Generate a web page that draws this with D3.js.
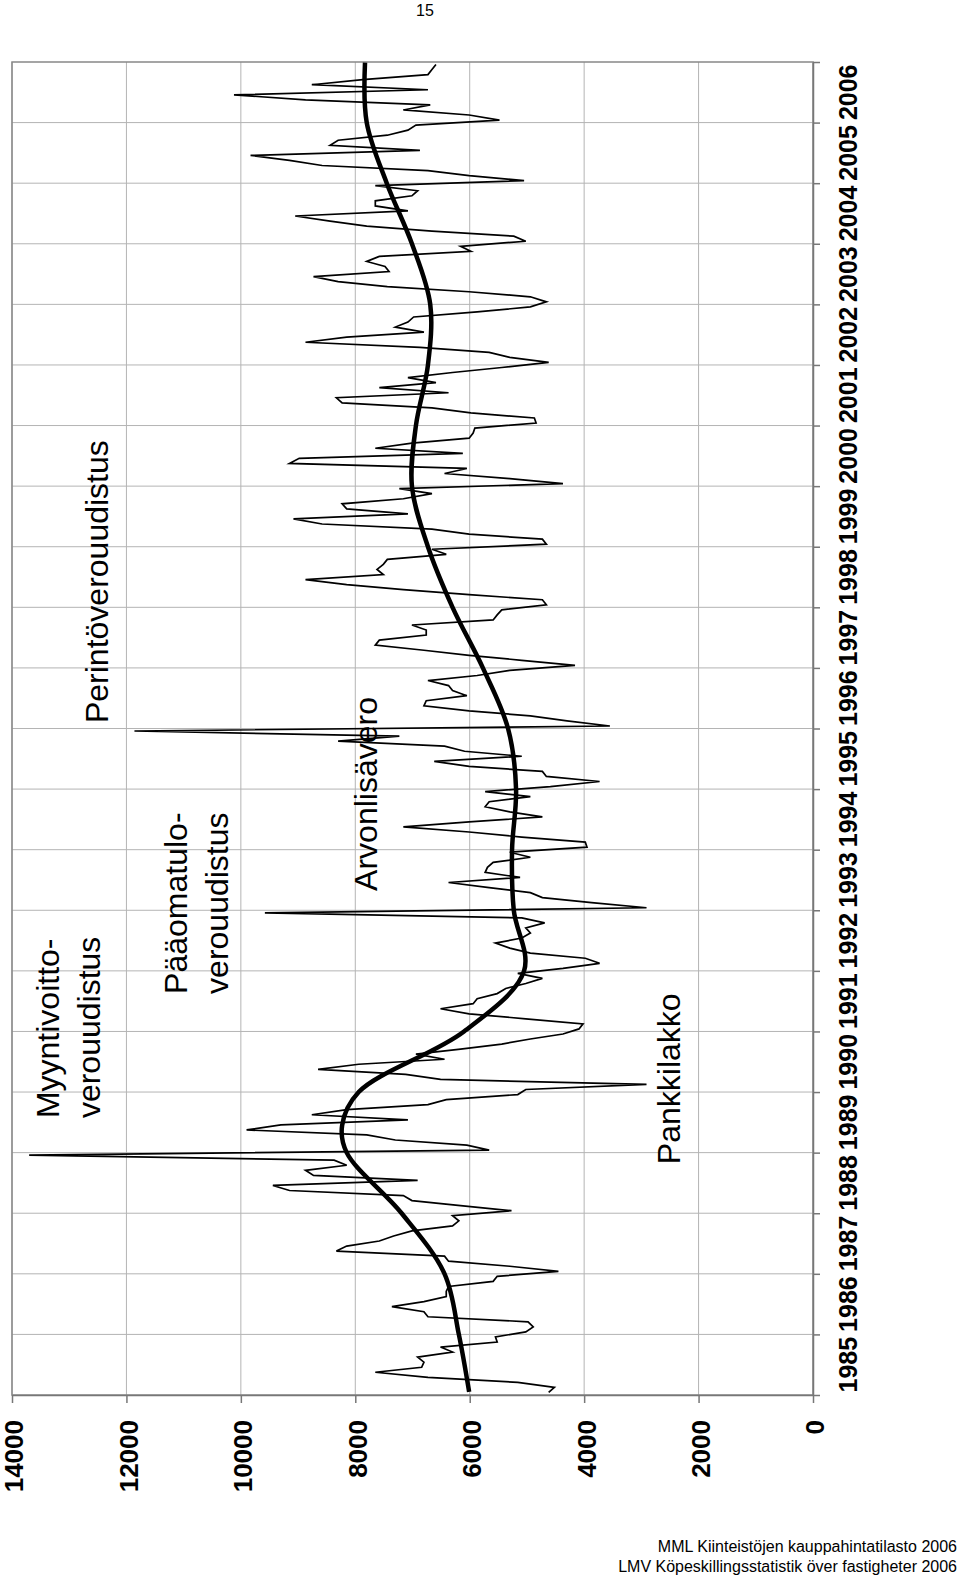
<!DOCTYPE html>
<html>
<head>
<meta charset="utf-8">
<script src="https://cdn.jsdelivr.net/npm/d3@7/dist/d3.min.js"></script>
<style>
  body { margin: 0; background: #fff; }
  svg { display: block; }
  text { font-family: "Liberation Sans", Arial, sans-serif; fill: #000; }
</style>
</head>
<body>
<div class="vis-container"></div>
<script>
// year categories (labels on the vertical axis)
var years = d3.range(1985, 2007);
// value axis ticks
var valueTicks = [0, 2000, 4000, 6000, 8000, 10000, 12000, 14000];

// monthly values, one row per year (Jan..Dec)
var monthly1985 = [4620, 4520, 5160, 6730, 7650, 6840, 6800, 6910, 6300, 6510, 5520, 5550];
var monthly1986 = [5020, 4890, 4980, 6730, 6800, 7360, 6800, 6410, 6410, 6370, 5590, 5520];
var monthly1987 = [4450, 5300, 6370, 6440, 8330, 8150, 7580, 7330, 7010, 6300, 6190, 6300];
var monthly1988 = [5270, 6160, 7010, 7160, 9150, 9440, 6910, 8730, 8870, 8150, 8370, 13700];
var monthly1989 = [5660, 6050, 7300, 7800, 9900, 9300, 7080, 8760, 8150, 6730, 6410, 5160];
var monthly1990 = [5020, 2910, 6510, 7120, 8650, 7940, 6440, 6940, 6160, 5440, 4940, 4370];
var monthly1991 = [4090, 4020, 5020, 6010, 6510, 5940, 5870, 5520, 5370, 5020, 4730, 5160];
var monthly1992 = [4370, 3730, 3980, 4940, 5300, 5550, 5090, 4940, 5020, 4690, 5090, 9580];
var monthly1993 = [2910, 3870, 4730, 4940, 5660, 6370, 5120, 5730, 5690, 5590, 4940, 5300];
var monthly1994 = [3950, 3980, 5090, 6010, 7160, 6010, 4730, 5300, 5730, 5660, 4940, 5730];
var monthly1995 = [4590, 3730, 4660, 4730, 6010, 6620, 5090, 6090, 6440, 8300, 7230, 11860];
var monthly1996 = [3550, 4300, 4940, 6010, 6800, 6760, 6050, 6300, 6370, 6730, 5870, 5300];
var monthly1997 = [4160, 5090, 6010, 6800, 7650, 7580, 6760, 6760, 7010, 5590, 5520, 5440];
var monthly1998 = [4660, 4730, 6010, 7160, 8150, 8870, 7510, 7620, 7510, 7440, 6410, 6660];
var monthly1999 = [4660, 4730, 6010, 6660, 8580, 9080, 7080, 8150, 8230, 7160, 6660, 7230];
var monthly2000 = [4370, 5300, 6440, 6050, 9150, 8980, 6120, 7650, 7010, 6010, 5940, 5910];
var monthly2001 = [4840, 4870, 5980, 6660, 8230, 8330, 6370, 7580, 6590, 7080, 6300, 5440];
var monthly2002 = [4620, 5300, 5660, 6870, 8870, 8150, 6800, 7300, 7080, 6980, 5870, 4940];
var monthly2003 = [4660, 4940, 6010, 7440, 8300, 8730, 7410, 7480, 7800, 7580, 5980, 6160];
var monthly2004 = [5020, 5230, 6660, 7800, 8440, 9050, 7080, 7650, 7650, 7010, 6910, 7650];
var monthly2005 = [5050, 6010, 6730, 8580, 9150, 9830, 6870, 8440, 8300, 7440, 7080, 6940];
var monthly2006 = [5480, 6010, 7160, 6690, 8870, 10120, 6730, 8760, 7870, 6730, 6660, 6590];

var monthlyRows = [monthly1985, monthly1986, monthly1987, monthly1988, monthly1989, monthly1990,
  monthly1991, monthly1992, monthly1993, monthly1994, monthly1995, monthly1996, monthly1997,
  monthly1998, monthly1999, monthly2000, monthly2001, monthly2002, monthly2003, monthly2004,
  monthly2005, monthly2006];

// smooth trend, read at year boundaries
var trendYears = [1985.05, 1986, 1987, 1988, 1989, 1989.45, 1990, 1991, 1992, 1993, 1994, 1995,
  1996, 1997, 1998, 1999, 2000, 2001, 2002, 2003, 2004, 2005, 2006, 2006.99];
var trendValues = [6010, 6190, 6440, 7190, 8150, 8230, 7940, 6100, 5050, 5230, 5260, 5190,
  5330, 5770, 6300, 6730, 7010, 6940, 6730, 6690, 7010, 7450, 7800, 7830];

// event notes, anchored in data units (year, value)
var noteTexts = [["Myyntivoitto-", "verouudistus"], ["Pääomatulo-", "verouudistus"],
  ["Arvonlisävero"], ["Perintöverouudistus"], ["Pankkilakko"]];
var noteYears = [1989.57, 1991.62, 1993.32, 1996.09, 1988.81];
var noteValues = [13180, 10940, 7620, 12320, 2330];

var sourceLines = ["MML Kiinteistöjen kauppahintatilasto 2006",
  "LMV Köpeskillingsstatistik över fastigheter 2006"];

var svg = d3.select(".vis-container").append("svg")
  .attr("width", 960)
  .attr("height", 1578);

var plotLeft = 12, plotRight = 813, plotTop = 62, plotBottom = 1395;

var x = d3.scaleLinear().domain([14000, 0]).range([plotLeft, plotRight]);
var y = d3.scaleLinear().domain([1985, 2007]).range([plotBottom, plotTop]);

// grid
svg.append("g").selectAll("line.v")
  .data(valueTicks)
  .enter().append("line")
  .attr("x1", function(d) { return x(d); })
  .attr("x2", function(d) { return x(d); })
  .attr("y1", plotTop)
  .attr("y2", plotBottom)
  .attr("stroke", "#b4b4b4")
  .attr("stroke-width", 1);

svg.append("g").selectAll("line.h")
  .data(d3.range(1986, 2007))
  .enter().append("line")
  .attr("x1", plotLeft)
  .attr("x2", plotRight)
  .attr("y1", function(d) { return y(d); })
  .attr("y2", function(d) { return y(d); })
  .attr("stroke", "#b4b4b4")
  .attr("stroke-width", 1);

// plot border
svg.append("rect")
  .attr("x", plotLeft)
  .attr("y", plotTop)
  .attr("width", plotRight - plotLeft)
  .attr("height", plotBottom - plotTop)
  .attr("fill", "none")
  .attr("stroke", "#888")
  .attr("stroke-width", 1.5);

// value axis (bottom)
var xAxis = svg.append("g")
  .attr("transform", "translate(0," + plotBottom + ")")
  .call(d3.axisBottom(x).tickValues(valueTicks).tickSize(8).tickSizeOuter(0).tickFormat(""));
xAxis.selectAll("path, line").attr("stroke", "#777").attr("stroke-width", 1.5);

svg.append("g").selectAll("text")
  .data(valueTicks)
  .enter().append("text")
  .attr("transform", function(d) { return "translate(" + (x(d) + 2) + ",1420) rotate(-90)"; })
  .attr("text-anchor", "end")
  .attr("dy", "0.36em")
  .style("font-size", "26px")
  .style("font-weight", "bold")
  .text(function(d) { return d; });

// year axis (right side)
var yAxis = svg.append("g")
  .attr("transform", "translate(" + plotRight + ",0)")
  .call(d3.axisRight(y).tickValues(d3.range(1985, 2008)).tickSize(7).tickSizeOuter(0).tickFormat(""));
yAxis.selectAll("path, line").attr("stroke", "#777").attr("stroke-width", 1.5);

svg.append("g").selectAll("text")
  .data(years)
  .enter().append("text")
  .attr("transform", function(d) { return "translate(848," + y(d + 0.5) + ") rotate(-90)"; })
  .attr("text-anchor", "middle")
  .attr("dy", "0.36em")
  .style("font-size", "25px")
  .style("font-weight", "bold")
  .text(function(d) { return d; });

// monthly line
var points = [];
monthlyRows.forEach(function(row, k) {
  row.forEach(function(v, m) {
    points.push({ t: years[k] + (m + 0.5) / 12, v: v });
  });
});

var line = d3.line()
  .x(function(d) { return x(d.v); })
  .y(function(d) { return y(d.t); });

svg.append("path")
  .datum(points)
  .attr("d", line)
  .attr("fill", "none")
  .attr("stroke", "#000")
  .attr("stroke-width", 1.7)
  .attr("stroke-linejoin", "miter");

// trend
var trend = trendYears.map(function(t, i) { return { t: t, v: trendValues[i] }; });
svg.append("path")
  .datum(trend)
  .attr("d", line.curve(d3.curveCatmullRom))
  .attr("fill", "none")
  .attr("stroke", "#000")
  .attr("stroke-width", 4.5);

// notes
var notes = svg.append("g").selectAll("text")
  .data(noteTexts)
  .enter().append("text")
  .attr("transform", function(d, i) {
    return "translate(" + x(noteValues[i]) + "," + y(noteYears[i]) + ") rotate(-90)";
  })
  .style("font-size", "32px");
notes.selectAll("tspan")
  .data(function(d) { return d; })
  .enter().append("tspan")
  .attr("x", 0)
  .attr("dy", function(d, i) { return i === 0 ? 0 : 41; })
  .text(function(d) { return d; });

// page number and source
svg.append("text")
  .attr("x", 425)
  .attr("y", 16)
  .attr("text-anchor", "middle")
  .style("font-size", "16px")
  .text("15");

svg.append("g").selectAll("text")
  .data(sourceLines)
  .enter().append("text")
  .attr("x", 957)
  .attr("y", function(d, i) { return 1552 + i * 20; })
  .attr("text-anchor", "end")
  .style("font-size", "16px")
  .text(function(d) { return d; });
</script>
</body>
</html>
